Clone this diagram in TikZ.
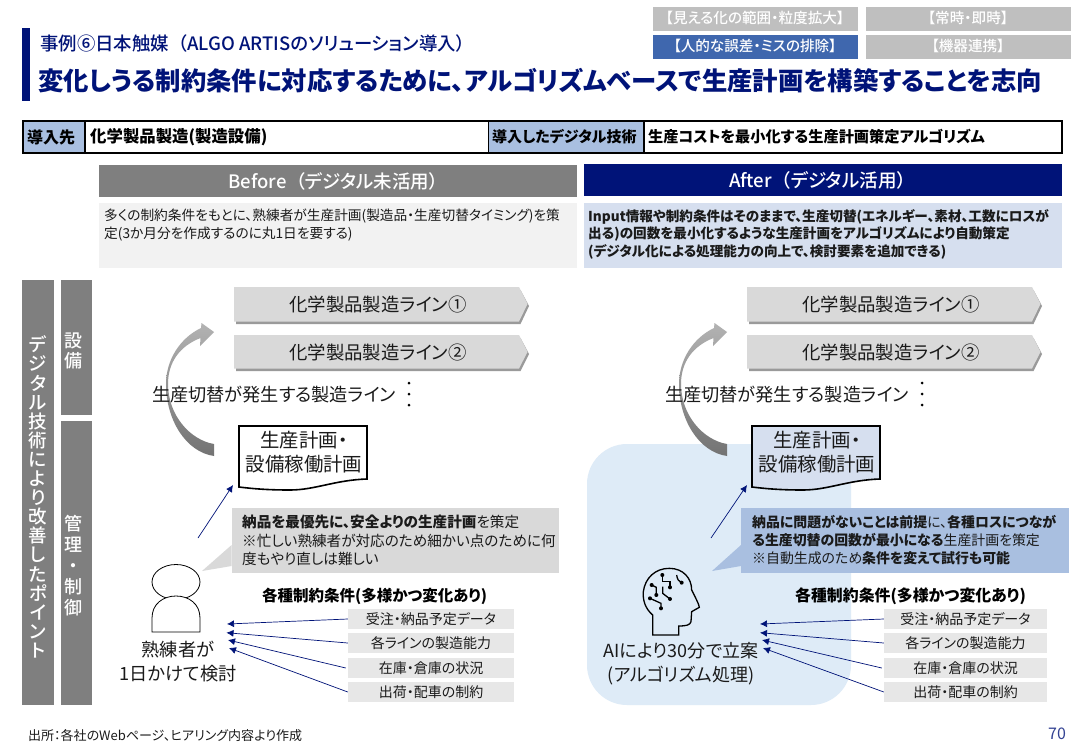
\documentclass[tikz,border=0pt]{standalone}
\usepackage{fontspec}
\setmainfont{Noto Sans CJK JP}[RawFeature={+palt}]
\newfontfamily\medfont{Noto Sans CJK JP Medium}[RawFeature={+palt}]
\usetikzlibrary{arrows.meta}
\definecolor{navy}{HTML}{001378}
\definecolor{hdrblue}{HTML}{A9BFE0}
\definecolor{tagblue}{HTML}{3F67AE}
\definecolor{taggray}{HTML}{BFBFBF}
\definecolor{barfill}{HTML}{7F7F7F}
\definecolor{chev}{HTML}{D9D9D9}
\definecolor{chevsh}{HTML}{9A9A9A}
\definecolor{condbox}{HTML}{E7E7E7}
\definecolor{panel}{HTML}{DEEBF7}
\definecolor{descblue}{HTML}{D6DFEF}
\definecolor{txt}{HTML}{1A1A1A}
\newcommand{\fsz}[2]{\fontsize{#1}{#2}\selectfont}
\tikzset{
 lab/.style={inner sep=0pt,outer sep=0pt,text=txt,font=\fsz{18.2}{24},align=center},
 tag/.style={inner sep=0pt,outer sep=0pt,text=white,font=\medfont\fsz{14.6}{16}},
 vtext/.style={inner sep=0pt,text=white,align=center},
 cell/.style={inner sep=0pt,text=black,font=\fsz{15}{18}\bfseries,anchor=west},
 desc/.style={inner sep=0pt,anchor=north west,align=left,text=txt,font=\fsz{13.7}{17.5}},
 cond/.style={fill=condbox,inner sep=0pt,minimum height=20pt,text=txt,font=\fsz{14}{16}},
 note/.style={inner sep=0pt,anchor=north west,align=left,text=txt,font=\fsz{14.6}{18.5}},
 condtitle/.style={inner sep=0pt,text=black,font=\fsz{15.9}{20}\bfseries},
 nav/.style={draw=navy,line width=0.7pt,-{Latex[length=7pt,width=7pt]}}
}
\begin{document}
\begin{tikzpicture}[x=1pt,y=-1pt]
\useasboundingbox (0,0) rectangle (1084,750);
\fill[white] (0,0) rectangle (1084,750);
% header
\fill[navy] (22,28) rectangle (30,101);
\node[anchor=west,inner sep=0pt,text=navy,font=\medfont\fsz{18.4}{20}] (sub) at (40,44) {事例⑥日本触媒\hspace{0.5em}（ALGO ARTISのソリューション導入）};
\node[anchor=west,inner sep=0pt,text=navy,font=\fsz{25.37}{30}\bfseries] (ttl) at (38,81) {変化しうる制約条件に対応するために、アルゴリズムベースで生産計画を構築することを志向};
% tags
\fill[taggray] (653,7) rectangle (858,31);
\fill[taggray] (866,7) rectangle (1071,31);
\fill[tagblue] (653,35) rectangle (858,59);
\fill[taggray] (866,35) rectangle (1071,59);
\node[tag] (t1) at (755,18) {【見える化の範囲・粒度拡大】};
\node[tag] (t2) at (968,18) {【常時・即時】};
\node[tag] (t3) at (755,46) {【人的な誤差・ミスの排除】};
\node[tag] (t4) at (968,46) {【機器連携】};
% table
\fill[hdrblue] (22,121) rectangle (85,153);
\fill[hdrblue] (488,121) rectangle (644,153);
\draw[black,line width=1.2pt] (23,121) rectangle (1062,153);
\draw[black,line width=1.2pt] (85,121) -- (85,153);
\draw[black,line width=0.8pt] (488,121) -- (488,153);
\draw[black,line width=1.2pt] (644,121) -- (644,153);
\node[cell,font=\fsz{16}{18}\bfseries] (c1) at (27,137) {導入先};
\node[cell,font=\fsz{16.4}{18}\bfseries] (c2) at (90,137) {化学製品製造(製造設備)};
\node[cell] (c3) at (492,137) {導入したデジタル技術};
\node[cell,font=\fsz{15.2}{18}\bfseries] (c4) at (648,137) {生産コストを最小化する生産計画策定アルゴリズム};
% column heads
\fill[barfill] (99,165) rectangle (577,197);
\fill[navy] (584,164) rectangle (1062,196);
\node[inner sep=0pt,text=white,font=\medfont\fsz{18.5}{20}] (bf) at (333.5,181) {Before\hspace{0.5em}（デジタル未活用）\hspace{0.3em}};
\node[inner sep=0pt,text=white,font=\medfont\fsz{18.6}{20}] (af) at (817.5,180) {After\hspace{0.5em}（デジタル活用）\hspace{0.3em}};
\fill[black!5] (99,203) rectangle (577,268);
\fill[descblue] (584,203) rectangle (1062,268);
\node[desc] (d1) at (104,209) {多くの制約条件をもとに、熟練者が生産計画(製造品・生産切替タイミング)を策\\定(3か月分を作成するのに丸1日を要する)};
\node[desc,font=\fsz{13.6}{17.5}\bfseries] (d2) at (588,209) {Input情報や制約条件はそのままで、生産切替(エネルギー、素材、工数にロスが\\出る)の回数を最小化するような生産計画をアルゴリズムにより自動策定\\(デジタル化による処理能力の向上で、検討要素を追加できる)};
% side bars
\fill[barfill] (22,280) rectangle (54,705);
\fill[barfill] (61,280) rectangle (92,415);
\fill[barfill] (61,421) rectangle (92,705);
\node[vtext,font=\medfont\fsz{18.5}{19.1}] (v1) at (38,497) {デ\\ジ\\タ\\ル\\技\\術\\に\\よ\\り\\改\\善\\し\\た\\ポ\\イ\\ン\\ト};
\node[vtext,font=\medfont\fsz{18}{19.5}] (v2) at (73,351) {設\\備};
\node[vtext,font=\medfont\fsz{18}{21}] (v3) at (73,566) {管\\理\\・\\制\\御};
% right panel
\fill[panel,rounded corners=40pt] (587,444) rectangle (851,705);
% lines: repeated on both sides
\foreach \dx/\side in {0/L,513/R}{
 \begin{scope}[xshift=\dx pt]
 \fill[chevsh] (236,290) -- (520.5,290) -- (529,306) -- (520.5,324) -- (236,324) -- cycle;
 \fill[chev] (234,287) -- (519,287) -- (527.5,304) -- (519,321.5) -- (234,321.5) -- cycle;
 \fill[chevsh] (236,338) -- (520.5,338) -- (529,354) -- (520.5,371) -- (236,371) -- cycle;
 \fill[chev] (234,335) -- (519,335) -- (527.5,352) -- (519,368.5) -- (234,368.5) -- cycle;
 \node[lab,font=\fsz{18.4}{24}] (l1\side) at (378,304.5) {化学製品製造ライン①};
 \node[lab,font=\fsz{18.4}{24}] (l2\side) at (378,352.5) {化学製品製造ライン②};
 \shade[top color=black!30,bottom color=black!55,shading angle=0]
  (214,456) .. controls (186,452) and (166,420) .. (166,384)
  .. controls (166,360) and (180,338) .. (201,328)
  -- (201.5,323) -- (214,332) -- (200,346) -- (200.5,338)
  .. controls (180,346) and (168,362) .. (168,384)
  .. controls (168,415) and (190,440) .. (214,444) -- cycle;
 \node[lab,anchor=west] (sw\side) at (152,395) {生産切替が発生する製造ライン};
 \foreach \yy in {383,394,405}{\fill[black] (409,\yy) circle (1.5pt);}
 \end{scope}
}
% documents
\draw[black,line width=1.6pt,fill=white] (239,426) -- (367,426) -- (367,479) .. controls (335,480) and (315,490) .. (290,490) .. controls (270,490) and (255,489) .. (239,487) -- cycle;
\draw[black,line width=1.6pt,fill=descblue] (752,426) -- (880,426) -- (880,479) .. controls (848,480) and (828,490) .. (803,490) .. controls (783,490) and (768,489) .. (752,487) -- cycle;
\node[lab,font=\fsz{19.4}{24}] (docL) at (304,452) {生産計画・\\設備稼働計画};
\node[lab,font=\fsz{19.4}{24}] (docR) at (817,452) {生産計画・\\設備稼働計画};
% callouts
\fill[chev] (231.6,508) rectangle (559,573);
\fill[chev] (231.6,545) -- (202,571) -- (231.6,566) -- cycle;
\node[note] (nl) at (242,515) {\textbf{納品を最優先に、安全よりの生産計画}を策定\\※忙しい熟練者が対応のため細かい点のために何\\度もやり直しは難しい};
\fill[hdrblue] (741,508) rectangle (1069,573);
\fill[hdrblue] (741,545) -- (712,571) -- (741,566) -- cycle;
\node[note,font=\fsz{13.9}{18.2}] (nr) at (752,515) {\textbf{納品に問題がないことは前提}に、\textbf{各種ロスにつなが}\\\textbf{る生産切替の回数が最小になる}生産計画を策定\\※自動生成のため\textbf{条件を変えて試行も可能}};
% doc arrows
\coordinate (aL0) at (198,538);\coordinate (aL1) at (233,485);
\coordinate (aR0) at (711,538);\coordinate (aR1) at (747,485);
\draw[nav] (aL0) -- (aL1);
\draw[nav] (aR0) -- (aR1);
% person
\draw[black,line width=0.8pt,fill=white] (176,582) ellipse (24pt and 17.5pt);
\draw[black,line width=0.8pt,fill=white] (152,632) -- (152,618) .. controls (152,604) and (163,596) .. (176,596) .. controls (189,596) and (200,604) .. (200,618) -- (200,632) -- cycle;
\node[lab] (pL) at (178,662) {熟練者が\\1日かけて検討};
% AI head
\begin{scope}[shift={(580,500)},x=0.3333pt,y=-0.3333pt,line width=1.3pt,draw=black]
 \draw (218,405) -- (218,345) .. controls (195,325) and (188,300) .. (190,275) .. controls (195,235) and (225,205) .. (268,205) .. controls (310,205) and (335,235) .. (335,270) .. controls (345,290) and (358,315) .. (358,322) -- (335,335) -- (333,365) .. controls (330,375) and (320,378) .. (296,378) -- (296,405) -- cycle;
 \draw (247,225) -- (247,245) -- (270,245) -- (270,262);
 \draw (290,225) .. controls (292,238) and (296,245) .. (305,248);
 \draw (215,255) -- (229,262) -- (229,285);
 \draw (210,295) -- (243,310) -- (243,325);
 \draw (248,260) -- (248,280) -- (270,297);
 \foreach \p in {(247,225),(270,262),(305,248),(215,255),(229,285),(210,295),(243,325),(270,297)}{\fill[black] \p circle (6);}
\end{scope}
\node[lab,font=\fsz{18}{24}] (pR) at (681,664) {AIにより30分で立案\\(アルゴリズム処理)};
% conditions
\node[condtitle,font=\fsz{15.5}{20}\bfseries] (ctL) at (374.5,596) {各種制約条件(多様かつ変化あり)};
\node[condtitle] (ctR) at (910.5,596) {各種制約条件(多様かつ変化あり)};
\foreach \s/\x/\wid in {L/431/166,R/965.5/163}{
 \node[cond,minimum width=\wid pt] (b1\s) at (\x,619) {受注・納品予定データ};
 \node[cond,minimum width=\wid pt] (b2\s) at (\x,643) {各ラインの製造能力};
 \node[cond,minimum width=\wid pt] (b3\s) at (\x,668) {在庫・倉庫の状況};
 \node[cond,minimum width=\wid pt] (b4\s) at (\x,692) {出荷・配車の制約};
}
\coordinate (hL1) at (227,624);\coordinate (hL2) at (226.5,632.7);\coordinate (hL3) at (228,640);\coordinate (hL4) at (229,648);
\coordinate (hR1) at (760,624);\coordinate (hR2) at (760,632.7);\coordinate (hR3) at (762,640);\coordinate (hR4) at (763,648);
\draw[nav] (b1L.west) -- (hL1);
\draw[nav] (b2L.west) -- (hL2);
\draw[nav] ([xshift=-2pt]b3L.west) -- (hL3);
\draw[nav] (b4L.west) -- (hL4);
\draw[nav] (b1R.west) -- (hR1);
\draw[nav] (b2R.west) -- (hR2);
\draw[nav] ([xshift=-2pt]b3R.west) -- (hR3);
\draw[nav] (b4R.west) -- (hR4);
% footer
\node[anchor=west,inner sep=0pt,text=txt,font=\fsz{13}{14}] (src) at (28,736) {出所：各社のWebページ、ヒアリング内容より作成};
\node[anchor=center,inner sep=0pt,text=navy!80!white,font=\fsz{16}{18}] (pg) at (1057,734) {70};
\end{tikzpicture}
\end{document}
